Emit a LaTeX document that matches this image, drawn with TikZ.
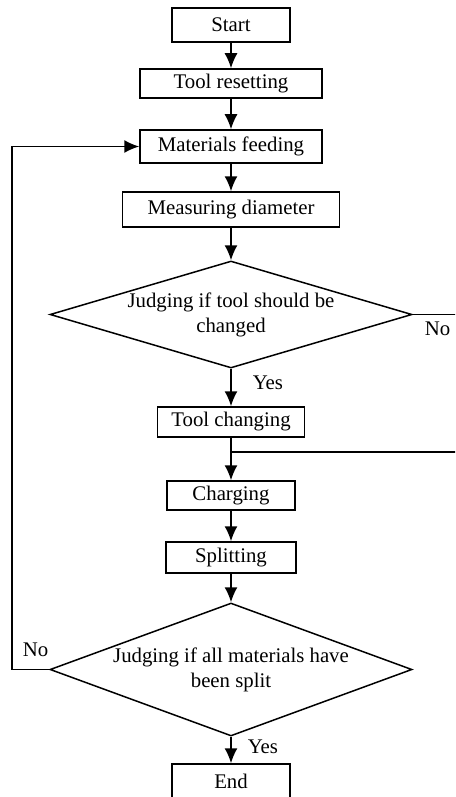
\documentclass[tikz,border=0pt]{standalone}
\usepackage{fontspec}
\setmainfont{Liberation Serif}
\usetikzlibrary{arrows.meta}
\usetikzlibrary{shapes.geometric}

\tikzset{
  box/.style={draw, inner sep=0pt},
  decision/.style={draw, diamond, inner sep=0pt},
  arr/.style={-{Latex[length=7.5pt,width=6.5pt]}},
  tag/.style={anchor=west, inner sep=0pt}
}

\begin{document}
\begin{tikzpicture}[x=0.5pt,y=-0.5pt, line width=.75pt,
  font=\fontsize{10.4}{12.5}\selectfont]
\clip (0,0) rectangle (455,797);
% process blocks
\node[box, minimum width=59pt, minimum height=17pt] (start) at (231,25) {Start};
\node[box, minimum width=91pt, minimum height=14.5pt] (reset) at (231,83.5) {Tool resetting};
\node[box, minimum width=91pt, minimum height=16.5pt] (feed) at (231,146.5) {Materials feeding};
\node[box, minimum width=108.5pt, minimum height=17.5pt] (measure) at (231,209.5) {Measuring diameter};
\node[decision, minimum width=181pt, minimum height=53.5pt] (judgetool) at (231,314.5) {};
\node[align=center] (judgetooltxt) at (judgetool) {Judging if tool should be\\changed};
\node[box, minimum width=73.5pt, minimum height=15pt] (toolchg) at (231,422) {Tool changing};
\node[box, minimum width=64pt, minimum height=14.5pt] (charge) at (231,495.5) {Charging};
\node[box, minimum width=65pt, minimum height=15.5pt] (split) at (231,557.5) {Splitting};
\node[decision, minimum width=181pt, minimum height=66.5pt] (judgeall) at (231,669.5) {};
\node[align=center] (judgealltxt) at (judgeall) {Judging if all materials have\\been split};
\node[box, minimum width=59pt, minimum height=17pt] (finish) at (231,781) {End};

\coordinate (rightout) at (470,314.5);
\coordinate (rightin) at (470,452);
\coordinate (merge) at (231,452);
\coordinate (loopbot) at (12,669.5);

% main flow
\draw[arr] (start) -- (reset);
\draw[arr] (reset) -- (feed);
\draw[arr] (feed) -- (measure);
\draw[arr] (measure) -- (judgetool.north);
\draw[arr] (judgetool.south) -- (toolchg);
\draw[arr] (toolchg) -- (charge);
\draw[arr] (charge) -- (split);
\draw[arr] (split) -- (judgeall.north);
\draw[arr] (judgeall.south) -- (finish);

% branches
\draw (judgetool.east) -- (rightout);
\draw (rightin) -- (merge);
\draw[arr] (judgeall.west) -- (loopbot) |- (feed.west);

\node[tag] (yestool) at (252,383) {Yes};
\node[tag] (notool) at (424,329) {No};
\node[tag] (yesall) at (247,747) {Yes};
\node[tag] (noall) at (22,650) {No};
\end{tikzpicture}
\end{document}
